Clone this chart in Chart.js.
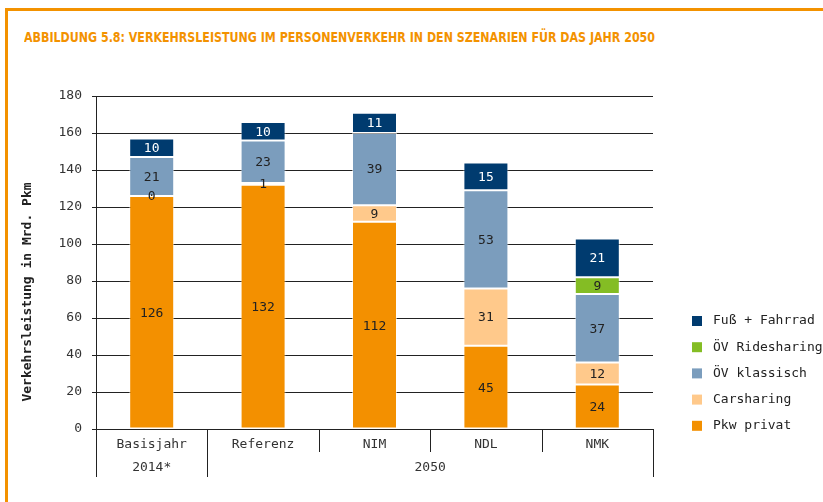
<!DOCTYPE html>
<html><head><meta charset="utf-8">
<script src="https://cdn.jsdelivr.net/npm/chart.js@4/dist/chart.umd.min.js"></script>
<style>
html,body{margin:0;padding:0;background:#fff;width:823px;height:502px;overflow:hidden;}
#frame{position:absolute;left:5px;top:8px;width:830px;height:520px;border-top:3px solid #F39200;border-left:3px solid #F39200;}
#title{position:absolute;left:24px;top:29px;font-family:"Liberation Sans Narrow","DejaVu Sans Condensed",sans-serif;font-weight:bold;font-size:13.5px;color:#F39200;white-space:nowrap;transform-origin:0 0;letter-spacing:0px;}
canvas{position:absolute;left:0;top:0;}
</style></head>
<body>
<div id="frame"></div>
<div id="title">ABBILDUNG 5.8: VERKEHRSLEISTUNG IM PERSONENVERKEHR IN DEN SZENARIEN FÜR DAS JAHR 2050</div>
<canvas id="c" width="823" height="502"></canvas>
<script>
const categories = ["Basisjahr", "Referenz", "NIM", "NDL", "NMK"];
const periods = ["2014*", "2050", "2050", "2050", "2050"];
const seriesNames = ["Pkw privat", "Carsharing", "ÖV klassisch", "ÖV Ridesharing", "Fuß + Fahrrad"];
const pkwPrivat = [126, 132, 112, 45, 24];
const carsharing = [0, 1, 9, 31, 12];
const oevKlassisch = [21, 23, 39, 53, 37];
const oevRidesharing = [null, null, null, null, 9];
const fussFahrrad = [10, 10, 11, 15, 21];
const yTicks = [0, 20, 40, 60, 80, 100, 120, 140, 160, 180];
const yTitle = "Verkehrsleistung in Mrd. Pkm";

const colors = ["#F39000", "#FFC98B", "#7B9DBD", "#84BD24", "#003B6F"];
const labelColors = ["#222", "#222", "#222", "#222", "#ffffff"];
const seriesData = [pkwPrivat, carsharing, oevKlassisch, oevRidesharing, fussFahrrad];
const MONO = '"DejaVu Sans Mono", "Liberation Mono", monospace';

// fit title width
const t = document.getElementById('title');
const tw = t.getBoundingClientRect().width;
t.style.transform = 'scaleX(' + (631 / tw) + ')';

const extras = {
  id: 'extras',
  afterDatasetsDraw(chart) {
    const ctx = chart.ctx;
    // data labels
    ctx.save();
    ctx.font = '13px ' + MONO;
    ctx.textAlign = 'center';
    ctx.textBaseline = 'middle';
    chart.data.datasets.forEach((ds, di) => {
      const meta = chart.getDatasetMeta(di);
      meta.data.forEach((el, i) => {
        const v = ds.data[i];
        if (v === null || v === undefined) return;
        const p = el.getProps(['x', 'y', 'base'], true);
        ctx.fillStyle = labelColors[di];
        ctx.fillText(String(v), p.x, (p.y + p.base) / 2 + 1);
      });
    });
    ctx.restore();
  },
  afterDraw(chart) {
    const ctx = chart.ctx;
    const xs = chart.scales.x;
    const area = chart.chartArea;
    const n = categories.length;
    const half = (xs.getPixelForValue(1) - xs.getPixelForValue(0)) / 2;
    ctx.save();
    ctx.strokeStyle = '#222';
    ctx.lineWidth = 1;
    // boundaries
    const bounds = [];
    for (let i = 0; i <= n; i++) {
      const x = i < n ? xs.getPixelForValue(i) - half : xs.getPixelForValue(n - 1) + half;
      const outer = (i === 0 || i === n || periods[i] !== periods[i - 1]);
      bounds.push(x);
      ctx.beginPath();
      ctx.moveTo(Math.round(x) + 0.5, area.bottom);
      ctx.lineTo(Math.round(x) + 0.5, area.bottom + (outer ? 48 : 23));
      ctx.stroke();
    }
    ctx.font = '13px ' + MONO;
    ctx.fillStyle = '#333';
    ctx.textAlign = 'center';
    ctx.textBaseline = 'middle';
    categories.forEach((c, i) => ctx.fillText(c, xs.getPixelForValue(i), area.bottom + 16));
    // group labels
    let start = 0;
    for (let i = 1; i <= n; i++) {
      if (i === n || periods[i] !== periods[start]) {
        ctx.fillText(periods[start], (bounds[start] + bounds[i]) / 2, area.bottom + 39);
        start = i;
      }
    }
    // y title
    ctx.save();
    ctx.translate(28, 292);
    ctx.rotate(-Math.PI / 2);
    ctx.font = 'bold 13px ' + MONO;
    ctx.fillStyle = '#222';
    ctx.fillText(yTitle, 0, 0);
    ctx.restore();
    // legend
    ctx.textAlign = 'left';
    for (let k = 0; k < seriesNames.length; k++) {
      const di = seriesNames.length - 1 - k;
      const y = 321 + k * 26.2;
      ctx.fillStyle = colors[di];
      ctx.fillRect(692, y - 5, 10, 10);
      ctx.fillStyle = '#222';
      ctx.fillText(seriesNames[di], 713, y);
    }
    ctx.restore();
  }
};

new Chart(document.getElementById('c'), {
  type: 'bar',
  data: {
    labels: categories,
    datasets: seriesNames.map((name, i) => ({
      label: name,
      data: seriesData[i],
      backgroundColor: colors[i],
      borderColor: 'rgba(255,255,255,0.55)',
      borderWidth: 1,
      borderSkipped: false,
      barPercentage: 0.404,
      categoryPercentage: 1
    }))
  },
  options: {
    responsive: false,
    devicePixelRatio: 1,
    animation: false,
    layout: { padding: { top: 96, right: 170, left: 0, bottom: 0 } },
    plugins: { legend: { display: false }, title: { display: false }, tooltip: { enabled: false } },
    scales: {
      x: {
        stacked: true,
        grid: { display: false },
        border: { display: false },
        ticks: { display: false },
        afterFit(s) { s.height = 73; }
      },
      y: {
        stacked: true,
        min: 0, max: 180,
        afterBuildTicks(s) { s.ticks = yTicks.map(v => ({ value: v })); },
        grid: { color: '#222', lineWidth: 1, tickLength: 4, drawTicks: true },
        border: { display: true, color: '#222', width: 1 },
        ticks: { font: { family: MONO, size: 13 }, color: '#333', padding: 10 },
        afterFit(s) { s.width = 96; }
      }
    }
  },
  plugins: [extras]
});
</script>
</body></html>
